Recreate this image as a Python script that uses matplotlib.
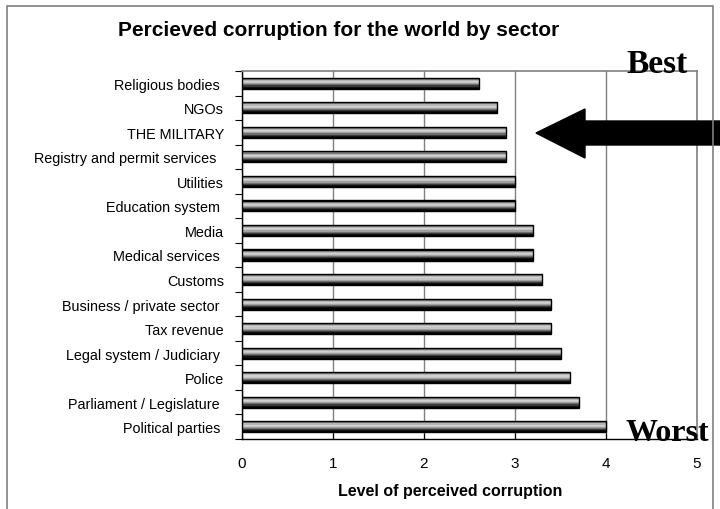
import matplotlib
matplotlib.use("Agg")
import matplotlib.pyplot as plt
from matplotlib.patches import Polygon
import numpy as np

# data (top to bottom)
sectors = ["Religious bodies ", "NGOs", "THE MILITARY", "Registry and permit services  ",
           "Utilities", "Education system ", "Media", "Medical services ", "Customs",
           "Business / private sector ", "Tax revenue", "Legal system / Judiciary ",
           "Police", "Parliament / Legislature ", "Political parties "]
scores = [2.6, 2.8, 2.9, 2.9, 3.0, 3.0, 3.2, 3.2, 3.3, 3.4, 3.4, 3.5, 3.6, 3.7, 4.0]
xticks = [0, 1, 2, 3, 4, 5]

W, H = 720, 510
fig = plt.figure(figsize=(7.2, 5.1), dpi=100)
plt.rcParams['font.family'] = ['Liberation Sans', 'DejaVu Sans']

# outer frame of the chart (open at the bottom, runs off the picture)
frame = [(7, 520), (7, 7), (713, 7), (713, 520)]
fig.add_artist(plt.Line2D([x / W for x, y in frame], [1 - y / H for x, y in frame],
                          transform=fig.transFigure, color='#808080', lw=1.2))

ax = fig.add_axes([242 / W, 1 - 440 / H, (697 - 242) / W, (440 - 72) / H])
ypos = np.arange(len(sectors))

# bars with a cylinder-like shading: stacked thin bands
bh = 0.45
shades = ['#000000', '#7a7a7a', '#b4b4b4', '#d2d2d2', '#c4c4c4', '#a0a0a0',
          '#6e6e6e', '#3a3a3a', '#101010', '#000000']
n = len(shades)
for k, c in enumerate(shades):
    off = -bh / 2 + (k + 0.5) * bh / n
    ax.barh(ypos + off, scores, height=bh / n, color=c, linewidth=0, zorder=3)
ax.barh(ypos, scores, height=bh, fill=False, edgecolor='black', linewidth=1.0, zorder=4)

ax.set_xlim(0, 5)
ax.set_ylim(len(sectors) - 0.5, -0.5)
ax.set_xticks(xticks)
ax.set_xticklabels([str(t) for t in xticks], fontsize=11)
ax.set_yticks(ypos)
ax.set_yticklabels(sectors, fontsize=10.4)
ax.tick_params(axis='y', length=0, pad=13)
ax.set_yticks(np.arange(len(sectors) + 1) - 0.5, minor=True)
ax.tick_params(axis='y', which='minor', length=5, width=0.8, direction='out')
ax.tick_params(axis='x', length=4, width=0.8, direction='in', pad=12)
ax.grid(axis='x', color='#808080', lw=1.0, zorder=1)

for s in ['top', 'right']:
    ax.spines[s].set_color('#808080')
    ax.spines[s].set_linewidth(1.2)
for s in ['left', 'bottom']:
    ax.spines[s].set_color('black')
    ax.spines[s].set_linewidth(1.0)

fig.text(450 / W, 1 - 492 / H, "Level of perceived corruption", fontsize=11.5,
         fontweight='bold', ha='center', va='center')
fig.text(339 / W, 1 - 31 / H, "Percieved corruption for the world by sector",
         fontsize=15, fontweight='bold', ha='center', va='center')

# Best / Worst annotations
fig.text(657 / W, 1 - 73 / H, "Best", family='Liberation Serif', fontsize=24,
         fontweight='bold', ha='center', va='baseline')
fig.text(667 / W, 1 - 441 / H, "Worst", family='Liberation Serif', fontsize=23,
         fontweight='bold', ha='center', va='baseline', zorder=5)

# big black arrow pointing left
pts = [(536, 134), (585, 110), (585, 122), (720, 122), (720, 146), (585, 146), (585, 159)]
fig.add_artist(Polygon([(x / W, 1 - y / H) for x, y in pts], closed=True,
                       transform=fig.transFigure, facecolor='black', edgecolor='black'))

fig.savefig("out.png", dpi=100)
